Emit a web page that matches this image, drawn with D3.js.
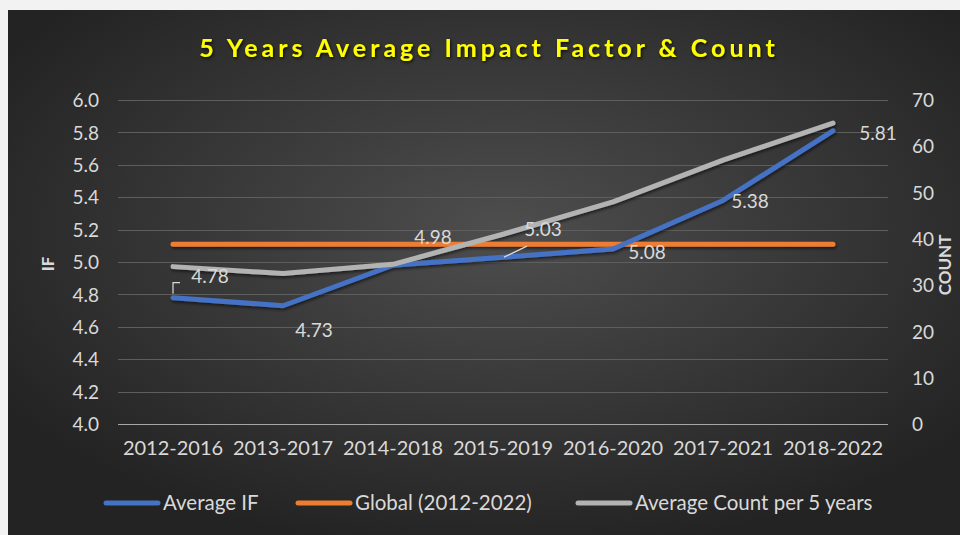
<!DOCTYPE html>
<html>
<head>
<meta charset="utf-8">
<script src="https://cdn.jsdelivr.net/npm/d3@7"></script>
<style>
  html, body { margin: 0; padding: 0; background: #f2f2f2; }
  svg { display: block; }
  text { font-family: Lato, "Open Sans", sans-serif; }
</style>
</head>
<body>
<svg id="chart" width="960" height="535"></svg>
<script>
// ---- data ----
const categories = ["2012-2016","2013-2017","2014-2018","2015-2019","2016-2020","2017-2021","2018-2022"];
const averageIF = [4.78, 4.73, 4.98, 5.03, 5.08, 5.38, 5.81];
const globalIF = [5.11, 5.11, 5.11, 5.11, 5.11, 5.11, 5.11];
const averageCount = [34, 32.5, 34.5, 41, 48, 57, 65];
const ifTicks = [4.0, 4.2, 4.4, 4.6, 4.8, 5.0, 5.2, 5.4, 5.6, 5.8, 6.0];
const countTicks = [0, 10, 20, 30, 40, 50, 60, 70];
const seriesNames = ["Average IF", "Global (2012-2022)", "Average Count per 5 years"];
const titleText = "5 Years Average Impact Factor & Count";

// ---- label placement (style) ----
const labelOffsets = [[37,-21],[31,25],[40,-28],[40,-28],[34,3],[27,1],[45,3]];

const svg = d3.select("#chart");
const W = 960, H = 535;
const colors = { blue: "#4472c4", orange: "#ed7d31", gray: "#b3b3b3" };

const defs = svg.append("defs");
const rg = defs.append("radialGradient").attr("id","bg").attr("cx","52%").attr("cy","42%").attr("r","62%");
rg.append("stop").attr("offset","0%").attr("stop-color","#4e4e4e");
rg.append("stop").attr("offset","100%").attr("stop-color","#232323");
const sh = defs.append("filter").attr("id","lshadow").attr("x","-5%").attr("y","-20%").attr("width","110%").attr("height","140%");
sh.append("feDropShadow").attr("dx",1).attr("dy",2).attr("stdDeviation",1.5).attr("flood-color","#000").attr("flood-opacity",0.55);
const tg = defs.append("filter").attr("id","tshadow").attr("x","-10%").attr("y","-40%").attr("width","120%").attr("height","180%");
tg.append("feDropShadow").attr("dx",1).attr("dy",1.5).attr("stdDeviation",1.5).attr("flood-color","#000").attr("flood-opacity",0.8);

svg.append("rect").attr("x",8).attr("y",10).attr("width",W-8).attr("height",H-10).attr("fill","url(#bg)");

const x = d3.scaleBand().domain(categories).range([118, 888]);
const cx = d => x(d) + x.bandwidth()/2;
const yL = d3.scaleLinear().domain([4, 6]).range([424, 100]);
const yR = d3.scaleLinear().domain([0, 70]).range([424, 100]);

// gridlines
svg.append("g").selectAll("line").data(ifTicks).join("line")
  .attr("x1", 118).attr("x2", 888)
  .attr("y1", d => Math.round(yL(d)) + 0.5).attr("y2", d => Math.round(yL(d)) + 0.5)
  .attr("stroke", d => d === 4 ? "#a6a6a6" : "#5e5e5e").attr("stroke-width", d => d === 4 ? 1.2 : 1);

// left axis
const leftAxis = d3.axisLeft(yL).tickValues(ifTicks).tickFormat(d3.format(".1f")).tickSize(0).tickPadding(0);
const gL = svg.append("g").attr("transform","translate(99,0)").call(leftAxis);
gL.select(".domain").remove();
gL.selectAll("text").attr("fill","#d9d9d9").style("font-size","19px").style("font-family","Lato").attr("dy","0.35em");

// right axis
const rightAxis = d3.axisRight(yR).tickValues(countTicks).tickSize(0).tickPadding(0);
const gR = svg.append("g").attr("transform","translate(912,0)").call(rightAxis);
gR.select(".domain").remove();
gR.selectAll("text").attr("fill","#d9d9d9").style("font-size","19px").style("font-family","Lato").attr("dy","0.35em");

// bottom axis
const bottomAxis = d3.axisBottom(x).tickSize(0).tickPadding(0);
const gB = svg.append("g").attr("transform","translate(0,446)").call(bottomAxis);
gB.select(".domain").remove();
gB.selectAll("text").attr("fill","#d9d9d9").style("font-size","20px").style("font-family","Lato").attr("dy","0.45em");

// axis titles
svg.append("text").attr("transform","translate(54,264) rotate(-90)").attr("text-anchor","middle")
  .attr("fill","#d9d9d9").style("font-size","17px").style("font-weight","bold").text("IF");
svg.append("text").attr("transform","translate(951,265) rotate(-90)").attr("text-anchor","middle")
  .attr("fill","#d9d9d9").style("font-size","17px").style("font-weight","bold").text("COUNT");

// title
svg.append("text").attr("x", 489).attr("y", 57).attr("text-anchor","middle")
  .attr("fill","#ffff00").style("font-size","25px").style("font-weight","bold").style("letter-spacing","4px")
  .attr("filter","url(#tshadow)").text(titleText);

// lines
const lineL = d3.line().x((d,i) => cx(categories[i])).y(d => yL(d));
const lineR = d3.line().x((d,i) => cx(categories[i])).y(d => yR(d));
const lg = svg.append("g").attr("filter","url(#lshadow)");
lg.append("path").datum(globalIF).attr("d", lineL).attr("fill","none").attr("stroke",colors.orange).attr("stroke-width",5).attr("stroke-linecap","round");
lg.append("path").datum(averageIF).attr("d", lineL).attr("fill","none").attr("stroke",colors.blue).attr("stroke-width",5).attr("stroke-linecap","round").attr("stroke-linejoin","round");
lg.append("path").datum(averageCount).attr("d", lineR).attr("fill","none").attr("stroke",colors.gray).attr("stroke-width",5).attr("stroke-linecap","round").attr("stroke-linejoin","round");

// leader lines
const p0 = [cx(categories[0]), yL(averageIF[0])];
svg.append("path").attr("d", `M${p0[0]},${p0[1]-4} V${p0[1]-15} H${p0[0]+7}`)
  .attr("fill","none").attr("stroke","#d9d9d9").attr("stroke-width",1.2);
const p3 = [cx(categories[3]), yL(averageIF[3])];
svg.append("line").attr("x1",p3[0]+1).attr("y1",p3[1]).attr("x2",p3[0]+24).attr("y2",p3[1]-11)
  .attr("stroke","#d9d9d9").attr("stroke-width",1.2);

// data labels
svg.append("g").selectAll("text").data(averageIF).join("text")
  .attr("x",(d,i) => cx(categories[i]) + labelOffsets[i][0])
  .attr("y",(d,i) => yL(d) + labelOffsets[i][1])
  .attr("dy","0.35em").attr("text-anchor","middle")
  .attr("fill","#d9d9d9").style("font-size","19px")
  .text(d => d3.format(".2f")(d));

// legend
const legendItems = [
  { name: seriesNames[0], color: colors.blue, x: 106 },
  { name: seriesNames[1], color: colors.orange, x: 298 },
  { name: seriesNames[2], color: colors.gray, x: 578 }
];
const leg = svg.append("g");
legendItems.forEach(it => {
  leg.append("line").attr("x1", it.x).attr("x2", it.x + 52).attr("y1", 503).attr("y2", 503)
    .attr("stroke", it.color).attr("stroke-width", 5).attr("stroke-linecap","round");
  leg.append("text").attr("x", it.x + 57).attr("y", 503).attr("dy","0.35em")
    .attr("fill","#d9d9d9").style("font-size","20.5px").text(it.name);
});
</script>
</body>
</html>
